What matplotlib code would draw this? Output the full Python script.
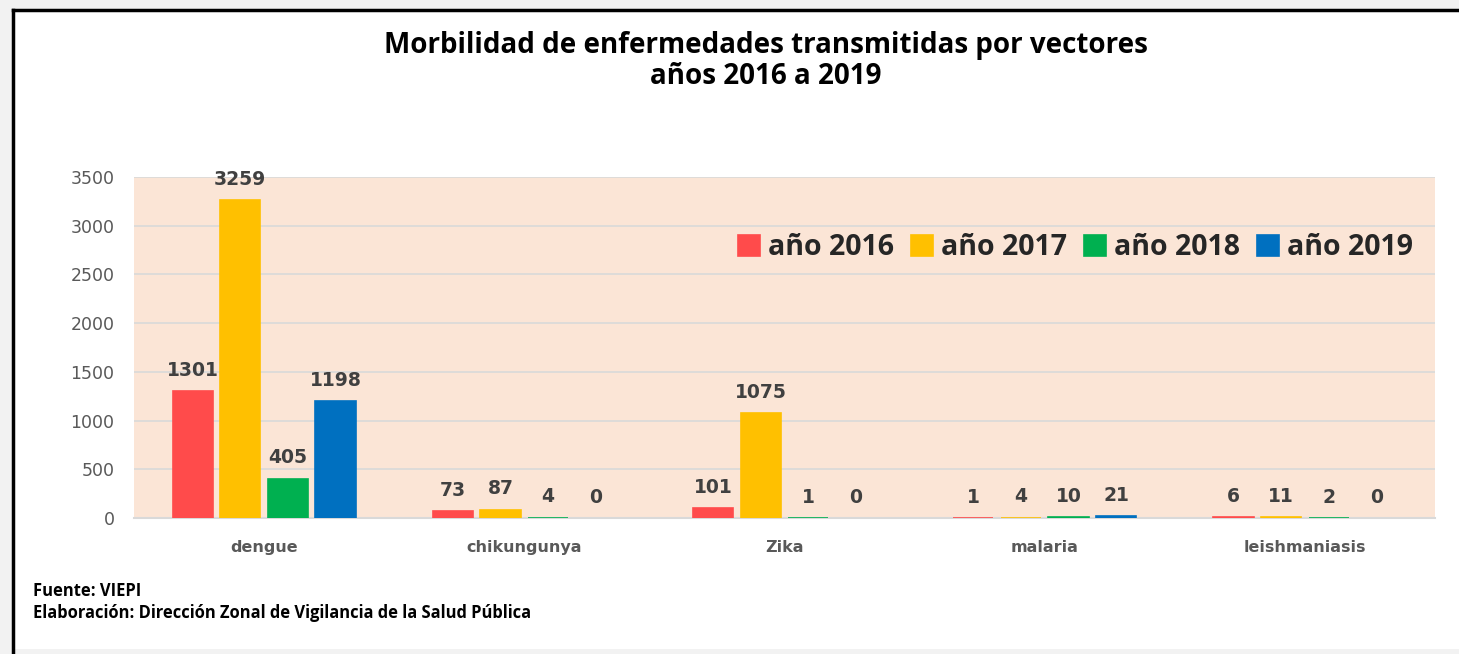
import matplotlib.pyplot as plt
import numpy as np
from matplotlib.lines import Line2D
from matplotlib.patches import Rectangle

categories = ['dengue', 'chikungunya', 'Zika', 'malaria', 'leishmaniasis']
years = ['año 2016', 'año 2017', 'año 2018', 'año 2019']
v2016 = [1301, 73, 101, 1, 6]
v2017 = [3259, 87, 1075, 4, 11]
v2018 = [405, 4, 1, 10, 2]
v2019 = [1198, 0, 0, 21, 0]
series = [v2016, v2017, v2018, v2019]
colors = ['#ff4b4b', '#ffc000', '#00b050', '#0070c0']

fig = plt.figure(figsize=(14.59, 6.54), dpi=100)
fig.patch.set_facecolor('#f2f2f2')

W, H = 1459.0, 654.0
# white card with black left/top border
fig.add_artist(Rectangle((13 / W, 0.008), 1.0, 1 - 10 / H - 0.008,
                         transform=fig.transFigure, facecolor='white',
                         edgecolor='none', zorder=0))
fig.add_artist(Line2D([13 / W, 13 / W], [0.0, 1 - 10 / H],
                      transform=fig.transFigure, color='black', lw=2.5))
fig.add_artist(Line2D([13 / W, 1.0], [1 - 10 / H, 1 - 10 / H],
                      transform=fig.transFigure, color='black', lw=2.5))

ax = fig.add_axes([134 / W, 1 - 518 / H, (1435 - 134) / W, (518 - 177) / H])
ax.set_facecolor('#fbe5d6')

x = np.arange(len(categories))
slot = 0.183
bw = 0.154
for i, (vals, col, lab) in enumerate(zip(series, colors, years)):
    pos = x + (i - 1.5) * slot
    edges = [col if v > 0 else 'none' for v in vals]
    bars = ax.bar(pos, vals, width=bw, color=col, edgecolor=edges,
                  linewidth=1.2, label=lab, zorder=3)
    for b, v in zip(bars, vals):
        ax.annotate(str(v), (b.get_x() + b.get_width() / 2, b.get_height()),
                    xytext=(0, 8), textcoords='offset points',
                    ha='center', va='bottom', fontsize=13.5,
                    fontweight='bold', color='#404040',
                    family='DejaVu Sans')

ax.set_ylim(0, 3500)
ax.set_xlim(-0.5, len(categories) - 0.5)
ax.set_yticks(np.arange(0, 3501, 500))
ax.grid(axis='y', color='#d9d9d9', lw=1.2, zorder=0)
for s in ['top', 'right', 'left']:
    ax.spines[s].set_visible(False)
ax.spines['bottom'].set_color('#d9d9d9')
ax.spines['bottom'].set_linewidth(1.5)
ax.tick_params(length=0)
ax.tick_params(axis='y', pad=14, labelsize=12.5, labelcolor='#595959')
ax.set_xticks(x)
ax.set_xticklabels(categories, fontsize=11.5, fontweight='bold',
                   color='#595959')
ax.tick_params(axis='x', pad=16)

leg = ax.legend(loc='center right', bbox_to_anchor=(1.003, 0.792), ncol=4,
                frameon=False, handlelength=0.75, handleheight=0.75,
                handletextpad=0.3, columnspacing=0.6,
                prop={'family': 'Open Sans', 'weight': 'bold', 'size': 20.5})
for t in leg.get_texts():
    t.set_color('#262626')

fig.text(766 / W, 1 - 45 / H, 'Morbilidad de enfermedades transmitidas por vectores',
         ha='center', va='center', fontsize=20, fontweight='bold',
         family='Open Sans', color='black')
fig.text(766 / W, 1 - 76 / H, 'años 2016 a 2019',
         ha='center', va='center', fontsize=20, fontweight='bold',
         family='Open Sans', color='black')

fig.text(33 / W, 1 - 591 / H, 'Fuente: VIEPI', ha='left', va='center',
         fontsize=11.9, fontweight='bold', family='Open Sans', color='black')
fig.text(33 / W, 1 - 613 / H,
         'Elaboración: Dirección Zonal de Vigilancia de la Salud Pública',
         ha='left', va='center', fontsize=11.9, fontweight='bold',
         family='Open Sans', color='black')

fig.savefig('out.png', dpi=100, facecolor=fig.get_facecolor())
